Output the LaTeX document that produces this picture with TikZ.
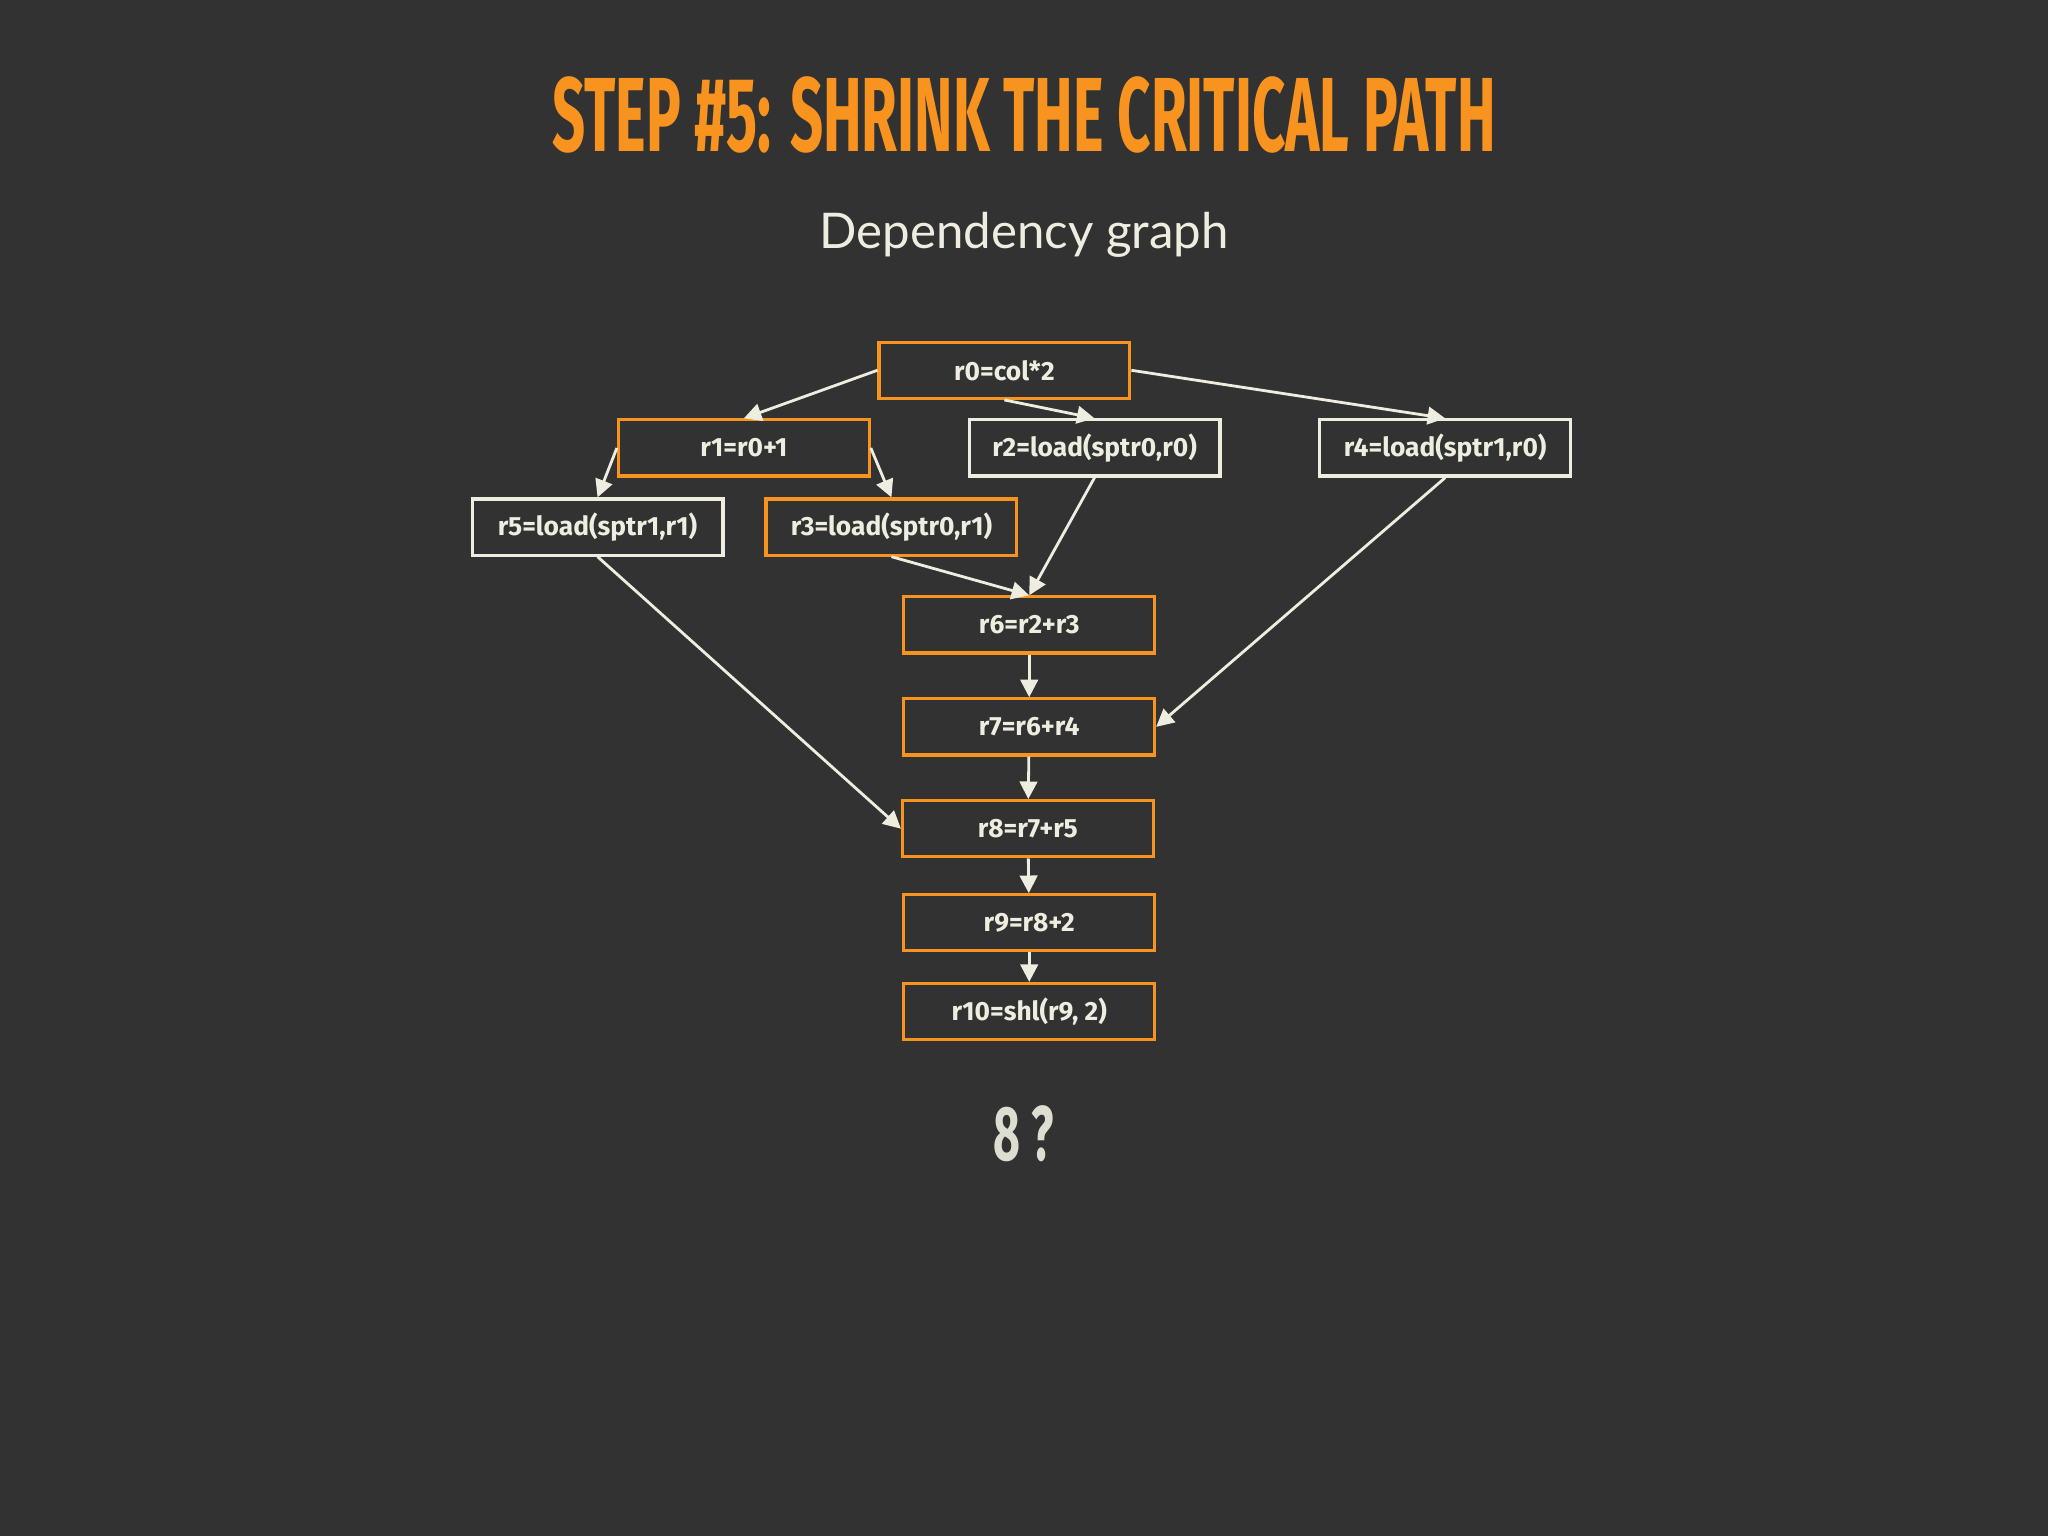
\documentclass[tikz,border=0pt]{standalone}
\usepackage{fontspec}
\setmainfont{Fira Sans}
\newfontfamily\latofont{Lato}
\usetikzlibrary{arrows.meta}
\definecolor{bg}{HTML}{323232}
\definecolor{org}{HTML}{F7931E}
\definecolor{lin}{HTML}{EEEDE0}
\tikzset{
  box/.style={draw=org,line width=0.9pt,minimum width=192*0.013061cm,minimum height=43*0.013061cm,inner sep=0pt,text=lin,font=\fontsize{7.5}{9}\selectfont\bfseries},
  wbox/.style={box,draw=lin},
  edge/.style={draw=lin,line width=0.8pt,-{Triangle[length=5pt,width=5pt]}}
}
\begin{document}
\begin{tikzpicture}[x=0.013061cm,y=-0.013061cm]
\fill[bg] (0,0) rectangle (1568,1176);
\node[text=org,font=\fontsize{30}{30}\selectfont\bfseries,xscale=0.55] (title) at (784,88) {STEP \#5: SHRINK THE CRITICAL PATH};
\node[text=lin,font=\latofont\fontsize{14}{16}\selectfont] (sub) at (784,180) {Dependency graph};
\node[box] (r0) at (769,283.5) {r0=col*2};
\node[box] (r1) at (569.5,343) {r1=r0+1};
\node[wbox] (r2) at (838,343) {r2=load(sptr0,r0)};
\node[wbox] (r4) at (1106.5,343) {r4=load(sptr1,r0)};
\node[wbox] (r5) at (457.5,403.5) {r5=load(sptr1,r1)};
\node[box] (r3) at (682.5,403.5) {r3=load(sptr0,r1)};
\node[box] (r6) at (788,478.5) {r6=r2+r3};
\node[box] (r7) at (788,556.5) {r7=r6+r4};
\node[box] (r8) at (787,634.5) {r8=r7+r5};
\node[box] (r9) at (788,706.5) {r9=r8+2};
\node[box] (r10) at (788,774.5) {r10=shl(r9, 2)};
\node[text=lin!85!gray,font=\fontsize{22}{22}\selectfont\bfseries,xscale=0.6] (q) at (784,868) {8 ?};
\draw[edge] (r0.west) -- (r1.north);
\draw[edge] (r0.south) -- (r2.north);
\draw[edge] (r0.east) -- (r4.north);
\draw[edge] (r1.west) -- (r5.north);
\draw[edge] (r1.east) -- (r3.north);
\draw[edge] (r2.south) -- (r6.north);
\draw[edge] (r3.south) -- (r6.north);
\draw[edge] (r4.south) -- (r7.east);
\draw[edge] (r5.south) -- (r8.west);
\draw[edge] (r6) -- (r7);
\draw[edge] (r7) -- (r8);
\draw[edge] (r8) -- (r9);
\draw[edge] (r9) -- (r10);
\end{tikzpicture}
\end{document}
